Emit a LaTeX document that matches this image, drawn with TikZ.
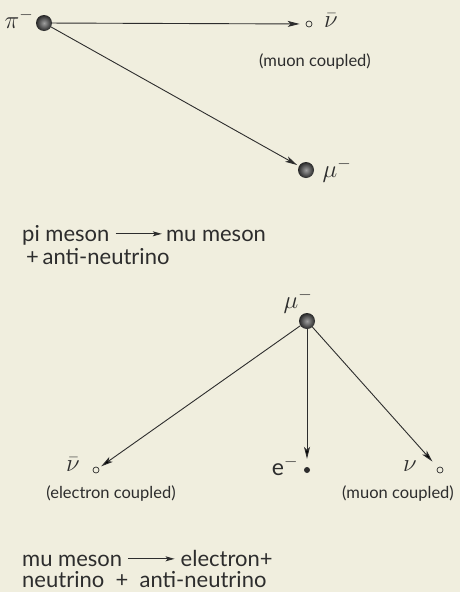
\documentclass[tikz,border=0pt]{standalone}
\usepackage{fontspec}
\setmainfont{Lato}
\usepackage{tikz}
\usetikzlibrary{arrows.meta, positioning}

\definecolor{paper}{RGB}{240,238,222}
\definecolor{ink}{RGB}{45,45,45}
\newcommand{\decayarrow}{\raisebox{0.42ex}{\tikz\draw[-{Stealth[length=9pt, width=5pt, inset=2pt]}, line width=1.1pt, ink] (0,0) -- (2.1em,0);}}

\begin{document}
\begin{tikzpicture}[x=1pt, y=-1pt,
        ball/.style={circle, inner color=gray!75, outer color=gray!30!black, minimum size=16pt, inner sep=0pt},
        hollow/.style={circle, draw=ink, line width=0.7pt, minimum size=6pt, inner sep=0pt},
        dot/.style={circle, fill=ink, minimum size=6pt, inner sep=0pt},
        track/.style={-{Stealth[length=12pt, width=6pt, inset=3pt]}, line width=0.9pt, draw=ink},
        note/.style={font=\fontsize{16.5}{19}\selectfont, text=ink},
        caption/.style={font=\fontsize{22}{24}\selectfont, text=ink, anchor=base west, inner sep=0pt},
        sym/.style={font=\fontsize{23}{25}\selectfont, text=ink, inner sep=0pt}
    ]
        % Paper
        \fill[paper] (0,0) rectangle (460,592);

        % Pion decay
        \node[ball] (piball) at (44,23) {};
        \node[sym] (pilabel) at (19,19) {$\pi^-$};
        \node[hollow] (nubarA) at (309,24) {};
        \node[sym] (nubarAlabel) at (331,21) {$\bar\nu$};
        \node[note] (nubarAnote) at (315,62) {(muon coupled)};
        \node[ball] (muballA) at (306,170) {};
        \node[sym] (muAlabel) at (337,170) {$\mu^-$};

        \draw[track, shorten >=6pt] (piball) -- (nubarA);
        \draw[track, shorten >=2pt] (piball) -- (muballA);

        \node[caption] (pitext) at (22,241) {pi meson \decayarrow\,mu meson};
        \node[caption] (pitextB) at (26,264) {+\,anti-neutrino};

        % Muon decay
        \node[ball] (muballB) at (307,321) {};
        \node[sym] (muBlabel) at (298,301) {$\mu^-$};
        \node[hollow] (nubarB) at (96,470) {};
        \node[sym] (nubarBlabel) at (73,465) {$\bar\nu$};
        \node[dot] (electron) at (307,470) {};
        \node[sym] (elabel) at (285,466) {e$^-$};
        \node[hollow] (nuB) at (440,470) {};
        \node[sym] (nuBlabel) at (410,466) {$\nu$};
        \node[note] (nubarBnote) at (111,494) {(electron coupled)};
        \node[note] (nuBnote) at (398,494) {(muon coupled)};

        \draw[track, shorten >=3pt] (muballB) -- (nubarB);
        \draw[track, shorten >=8pt] (muballB) -- (electron);
        \draw[track, shorten >=8pt] (muballB) -- (nuB);

        \node[caption] (mutext) at (22,566) {mu meson \decayarrow\ electron+};
        \node[caption] (mutextB) at (22,587) {neutrino\ \ +\ \ anti-neutrino};
    \end{tikzpicture}
\end{document}
